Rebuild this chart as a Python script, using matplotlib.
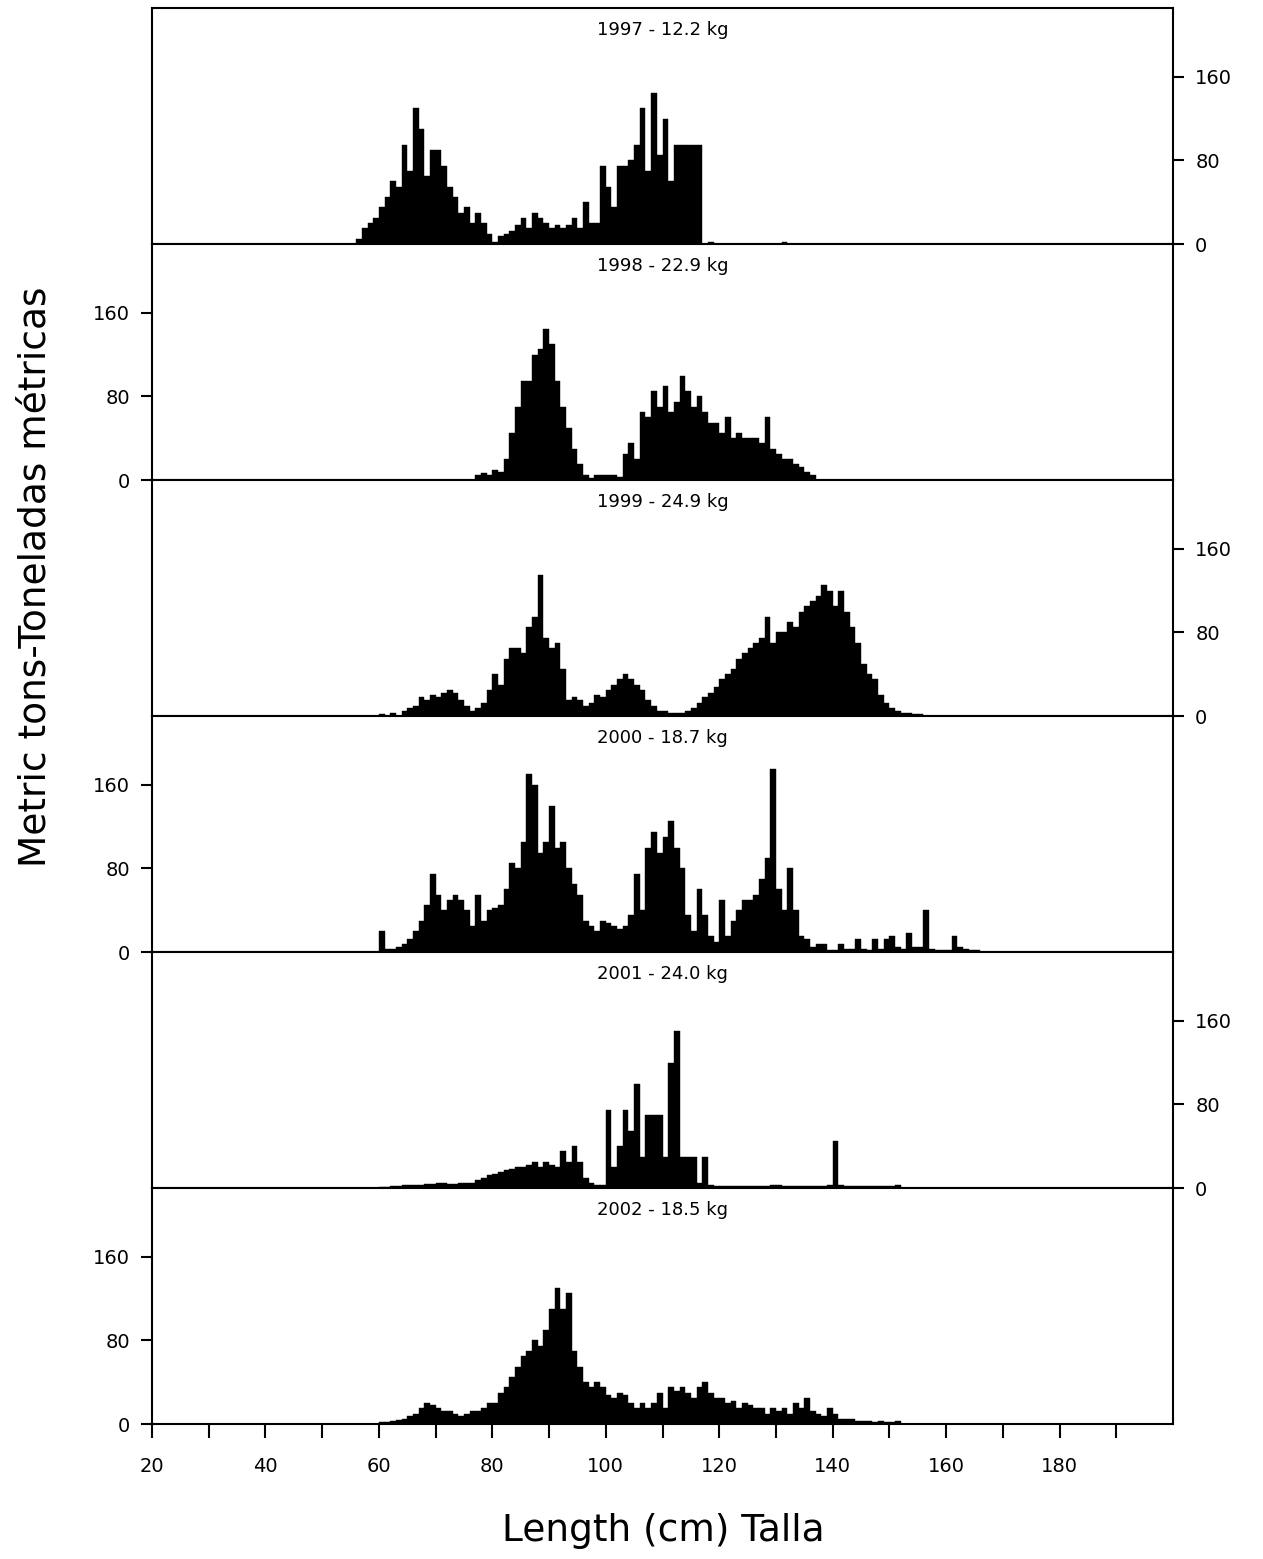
import matplotlib
matplotlib.use("Agg")
import matplotlib.pyplot as plt
import numpy as np

titles = ["1997 - 12.2 kg", "1998 - 22.9 kg", "1999 - 24.9 kg",
          "2000 - 18.7 kg", "2001 - 24.0 kg", "2002 - 18.5 kg"]

start_1997 = 56
tons_1997 = [5,15,20,25,35,45,60,55,95,70,130,110,65,90,90,75,55,45,30,35,20,30,20,10,2,8,10,12,18,25,15,30,25,20,15,18,15,18,25,15,40,20,20,75,55,35,75,75,80,95,130,70,145,85,120,60,95,95,95,95,95,0,2,0,0,0,0,0,0,0,0,0,0,0,0,2]
start_1998 = 77
tons_1998 = [5,7,5,10,8,20,45,70,95,95,120,125,145,130,95,70,50,30,15,5,2,5,5,5,5,3,25,35,20,65,60,85,70,90,65,75,100,85,70,80,65,55,55,45,60,40,45,40,40,40,35,60,30,25,20,20,15,12,8,5]
start_1999 = 60
tons_1999 = [2,0,3,0,5,8,10,18,15,20,18,22,25,22,15,10,5,8,12,25,40,30,55,65,65,60,85,95,135,75,65,70,45,15,18,15,10,12,20,18,25,30,35,40,35,30,25,15,10,5,5,3,3,3,5,8,12,18,22,28,35,40,45,55,60,65,70,75,95,70,80,80,90,85,100,105,110,115,125,120,105,120,100,85,70,50,40,35,20,12,8,5,3,3,2,2]
start_2000 = 60
tons_2000 = [20,3,3,5,8,12,20,30,45,75,55,40,50,55,50,40,25,55,30,40,42,45,60,85,80,105,170,160,95,105,140,100,105,80,65,55,30,25,20,30,28,25,22,25,35,75,40,100,115,95,110,125,100,80,35,20,60,35,15,10,50,15,30,40,50,50,55,70,90,175,60,40,80,40,15,12,5,8,8,2,2,8,3,3,12,3,2,12,3,12,15,5,3,18,5,5,40,3,2,2,2,15,5,3,2,2]
start_2001 = 60
tons_2001 = [1,1,2,2,3,3,3,3,4,4,5,5,4,4,5,5,5,8,10,12,13,15,17,18,20,20,22,25,20,25,22,20,35,25,40,25,10,5,3,3,75,20,40,75,55,100,30,70,70,70,30,120,150,30,30,30,5,30,3,2,2,2,2,2,2,2,2,2,2,3,3,2,2,2,2,2,2,2,2,3,45,3,2,2,2,2,2,2,2,2,2,3]
start_2002 = 60
tons_2002 = [2,2,3,4,5,8,10,15,20,18,15,12,12,10,8,10,12,12,15,20,20,30,35,45,55,65,70,80,75,90,110,130,110,125,70,55,40,35,40,35,28,25,30,28,20,15,20,15,20,30,15,35,32,35,30,25,35,40,30,25,25,20,22,15,20,18,15,15,10,15,12,15,10,20,15,25,12,10,8,15,10,5,5,5,3,3,3,2,3,2,2,3]

starts = [start_1997, start_1998, start_1999, start_2000, start_2001, start_2002]
series = [tons_1997, tons_1998, tons_1999, tons_2000, tons_2001, tons_2002]

fig = plt.figure(figsize=(12.63, 15.59), dpi=100)
left, right = 152/1263, 1173/1263
top, bottom = 1 - 8/1559, 1 - 1424/1559
h = (top - bottom) / 6
for i in range(6):
    y0 = top - (i + 1) * h
    ax = fig.add_axes([left, y0, right - left, h])
    s = starts[i]
    v = series[i]
    x = np.arange(s, s + len(v))
    ax.bar(x, v, width=1.0, align='edge', color='black', edgecolor='black', linewidth=0.3)
    ax.set_xlim(20, 200)
    ax.set_ylim(0, 226)
    ax.text(0.5, 0.945, titles[i], transform=ax.transAxes, ha='center', va='top', fontsize=13)
    for sp in ax.spines.values():
        sp.set_linewidth(1.5)
    ax.set_yticks([0, 80, 160])
    ax.tick_params(axis='y', labelsize=14, length=8, width=1.5, direction='out', pad=8)
    if i % 2 == 0:
        ax.yaxis.tick_right()
    else:
        ax.yaxis.tick_left()
    if i < 5:
        ax.set_xticks([])
    else:
        ax.set_xticks(np.arange(20, 200, 20))
        ax.set_xticks(np.arange(30, 200, 20), minor=True)
        ax.tick_params(axis='x', which='both', labelsize=14, length=10, width=1.5, pad=14)

fig.text(0.028, 0.63, "Metric tons-Toneladas métricas", rotation=90, ha='center', va='center', fontsize=27)
fig.text(0.525, 0.018, "Length (cm) Talla", ha='center', va='center', fontsize=27)
fig.savefig("out.png", dpi=100)
